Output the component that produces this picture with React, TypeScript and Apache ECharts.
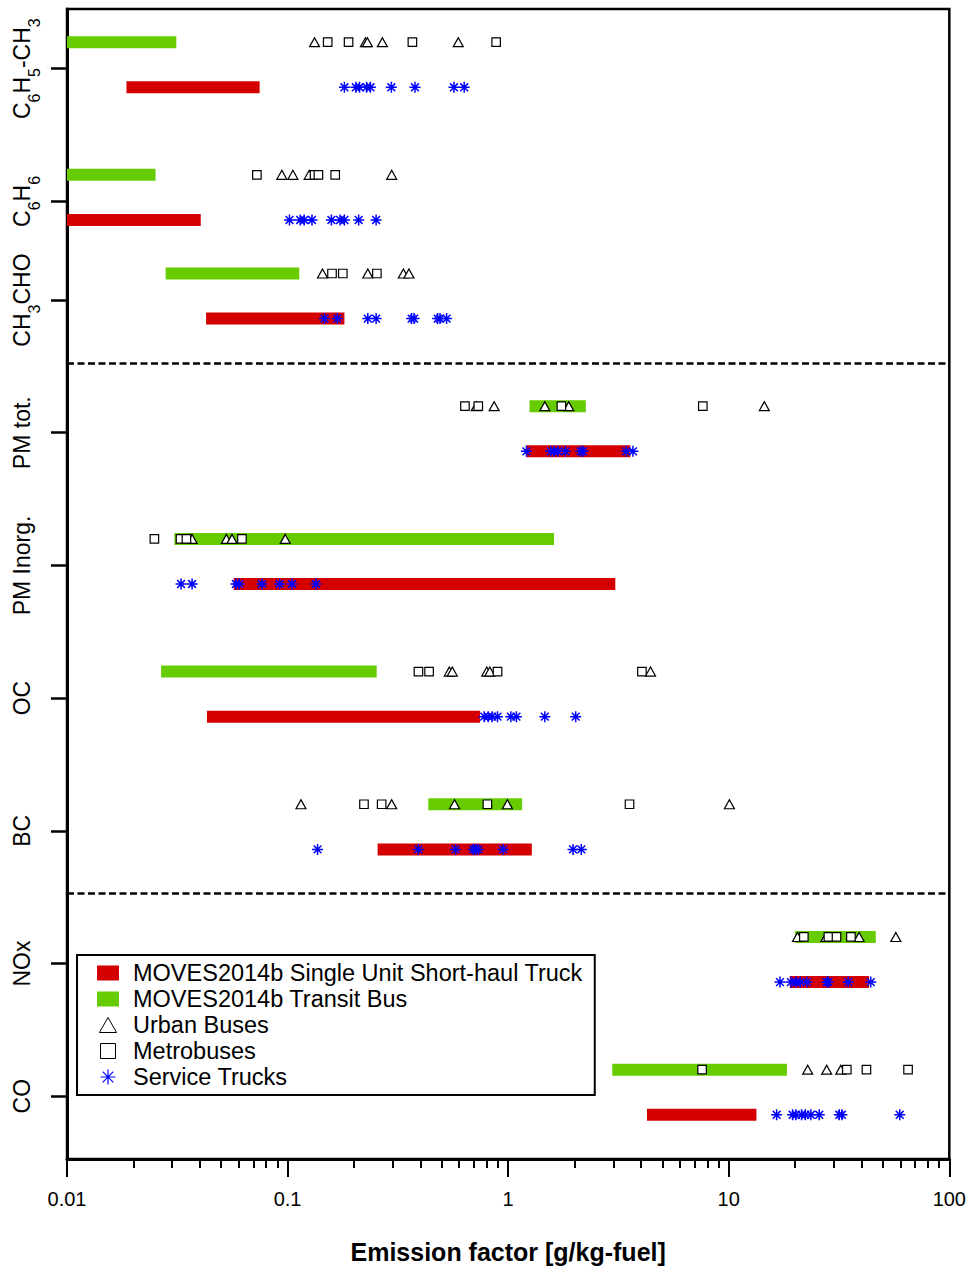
import React, { useEffect, useRef } from 'react';
import * as echarts from 'echarts';

// ---------- data ----------
const categories = ['C6H5-CH3', 'C6H6', 'CH3CHO', 'PM tot.', 'PM Inorg.', 'OC', 'BC', 'NOx', 'CO'];

// MOVES2014b Single Unit Short-haul Truck range [min, max] (g/kg-fuel)
const truckRange = [
  [0.0186, 0.0747],
  [0.01, 0.0404],
  [0.0427, 0.181],
  [1.21, 3.58],
  [0.057, 3.06],
  [0.0431, 0.745],
  [0.256, 1.28],
  [18.9, 43.3],
  [4.26, 13.35],
];

// MOVES2014b Transit Bus range [min, max]
const busRange = [
  [0.01, 0.0313],
  [0.01, 0.0252],
  [0.028, 0.113],
  [1.25, 2.25],
  [0.0307, 1.615],
  [0.0267, 0.2535],
  [0.4345, 1.157],
  [20.0, 46.4],
  [2.965, 18.36],
];

// Urban Buses (triangles)
const urbanBuses = [
  [0.1325, 0.2255, 0.23, 0.269, 0.594],
  [0.0942, 0.1057, 0.1253, 0.2965],
  [0.144, 0.231, 0.335, 0.355],
  [0.717, 0.864, 1.466, 1.882, 14.5],
  [0.0369, 0.0528, 0.056, 0.0976],
  [0.541, 0.558, 0.8, 0.826, 4.42],
  [0.115, 0.2965, 0.5715, 0.992, 10.07],
  [20.5, 27.6, 39.0, 57.2],
  [22.8, 27.8, 32.2],
];

// Metrobuses (squares)
const metrobuses = [
  [0.152, 0.189, 0.368, 0.882],
  [0.0726, 0.1325, 0.138, 0.1644],
  [0.159, 0.178, 0.254],
  [0.637, 0.732, 1.743, 7.63],
  [0.0249, 0.0327, 0.0348, 0.0621],
  [0.392, 0.438, 0.895, 4.04],
  [0.222, 0.267, 0.805, 3.55],
  [21.9, 28.3, 30.8, 35.8],
  [7.57, 34.3, 42.1, 65.0],
];

// Service Trucks (asterisks)
const serviceTrucks = [
  [0.181, 0.204, 0.212, 0.228, 0.2375, 0.2955, 0.378, 0.568, 0.632],
  [0.102, 0.114, 0.119, 0.129, 0.158, 0.173, 0.181, 0.21, 0.252],
  [0.147, 0.168, 0.231, 0.252, 0.365, 0.3745, 0.479, 0.491, 0.526],
  [1.21, 1.56, 1.615, 1.684, 1.817, 2.133, 2.185, 3.43, 3.678],
  [0.0329, 0.0369, 0.0583, 0.0604, 0.0765, 0.092, 0.1046, 0.1343],
  [0.7785, 0.812, 0.846, 0.895, 1.0285, 1.09, 1.466, 2.024],
  [0.1367, 0.3916, 0.5775, 0.694, 0.711, 0.732, 0.949, 1.968, 2.146],
  [17.07, 19.13, 20.16, 21.1, 22.61, 27.85, 28.25, 34.8, 44.05],
  [16.49, 19.48, 20.16, 21.39, 22.23, 23.57, 25.72, 31.7, 32.57, 59.6],
];

const xTickLabels = ['0.01', '0.1', '1', '10', '100'];
const xMinorTicks = [0.01, 0.1, 1, 10].flatMap((d) => [2, 3, 4, 5, 6, 7, 8, 9].map((m) => +(d * m).toPrecision(3)));

const TRUCK = 'MOVES2014b Single Unit Short-haul Truck';
const BUS = 'MOVES2014b Transit Bus';

// ---------- layout ----------
const rowPos = [24.23, 21.23, 19, 16, 13, 10, 7, 4, 1]; // truck row position per category
const BUS_OFFSET = 1.02;
const TICK_OFFSET = 0.42;
const separators = [18, 6];
const tickPos = rowPos.map((r) => +(r + TICK_OFFSET).toFixed(2));

const FONT = '"Liberation Sans", Arial, Helvetica, sans-serif';
const RED = '#D40000';
const GREEN = '#66CC00';
const BLUE = '#0000FF';

const TRI_PATH = 'path://M8,0L16,14L0,14Z';
const SQ_PATH = 'path://M0,0L13,0L13,13L0,13Z';
const AST_PATH = 'path://M0,-10L0,10M-10,0L10,0M-7.07,-7.07L7.07,7.07M-7.07,7.07L7.07,-7.07';

const toRich = (name: string) =>
  ('{n|' + name.replace(/(\d+)/g, '}{s|$1}{n|') + '}').replace(/\{n\|\}/g, '');

const labelFor = (v: number) => {
  let best = 0;
  tickPos.forEach((t, i) => {
    if (Math.abs(t - v) < Math.abs(tickPos[best] - v)) best = i;
  });
  return toRich(categories[best]);
};

const barData = (ranges: number[][], offset: number) =>
  ranges.map((r, i) => [r[0], r[1], rowPos[i] + offset]);

const pointData = (groups: number[][], offset: number) =>
  groups.flatMap((vals, i) => vals.map((v) => [v, rowPos[i] + offset]));

const renderBar = (color: string) => (_params: any, api: any) => {
  const y = api.value(2);
  const p1 = api.coord([api.value(0), y]);
  const p2 = api.coord([api.value(1), y]);
  return {
    type: 'rect',
    shape: { x: p1[0], y: p1[1] - 6, width: p2[0] - p1[0], height: 12 },
    style: { fill: color },
  };
};

export default function App() {
  const ref = useRef<HTMLDivElement>(null);

  useEffect(() => {
    if (!ref.current) return;
    const chart = echarts.init(ref.current, null, { renderer: 'svg' });
    const option: any = {
      animation: false,
      backgroundColor: '#fff',
      grid: {
        left: 67,
        top: 9,
        width: 885,
        height: 1151,
        show: true,
        borderColor: '#000',
        borderWidth: 2.5,
        backgroundColor: 'transparent',
      },
      xAxis: [
        {
          type: 'log',
          logBase: 10,
          min: 0.01,
          max: 100,
          axisLine: { show: true, onZero: false, lineStyle: { color: '#000', width: 3 } },
          axisTick: { show: true, length: 18, lineStyle: { color: '#000', width: 2 } },
          axisLabel: {
            margin: 30,
            fontFamily: FONT,
            fontSize: 20,
            color: '#000',
            formatter: (_v: number, i: number) => xTickLabels[i] ?? '',
          },
          splitLine: { show: false },
          name: 'Emission factor [g/kg-fuel]',
          nameLocation: 'middle',
          nameGap: 80,
          nameTextStyle: { fontFamily: FONT, fontSize: 25, fontWeight: 'bold', color: '#000' },
        },
        {
          type: 'log',
          logBase: 10,
          min: 0.01,
          max: 100,
          position: 'bottom',
          axisLine: { show: false },
          axisTick: { show: true, customValues: xMinorTicks, length: 9, lineStyle: { color: '#000', width: 2 } },
          axisLabel: { show: false },
          splitLine: { show: false },
        },
      ],
      yAxis: {
        type: 'value',
        min: 0,
        max: 26,
        axisLine: { show: true, onZero: false, lineStyle: { color: '#000', width: 3 } },
        axisTick: { show: true, customValues: tickPos, length: 16, lineStyle: { color: '#000', width: 2.5 } },
        axisLabel: {
          customValues: tickPos,
          rotate: 90,
          margin: 29,
          formatter: (v: number) => labelFor(v),
          rich: {
            n: { fontFamily: FONT, fontSize: 23, lineHeight: 24, padding: [0, 0, 8, 0], color: '#000' },
            s: { fontFamily: FONT, fontSize: 16, lineHeight: 16, padding: [16, 0, 0, 0], color: '#000' },
          },
        },
        splitLine: { show: false },
      },
      legend: {
        orient: 'vertical',
        left: 77,
        top: 955,
        padding: [5, 12, 5, 20],
        itemGap: 0,
        itemWidth: 22,
        itemHeight: 15,
        borderColor: '#000',
        borderWidth: 2,
        backgroundColor: '#fff',
        selectedMode: false,
        symbolKeepAspect: true,
        textStyle: { fontFamily: FONT, fontSize: 23.5, color: '#000', lineHeight: 26, padding: [0, 0, 0, 9] },
        data: [
          { name: TRUCK, icon: 'rect', itemStyle: { color: RED, borderWidth: 0 } },
          { name: BUS, icon: 'rect', itemStyle: { color: GREEN, borderWidth: 0 } },
          { name: 'Urban Buses', icon: TRI_PATH, itemStyle: { color: '#fff', borderColor: '#000', borderWidth: 1 } },
          { name: 'Metrobuses', icon: SQ_PATH, itemStyle: { color: '#fff', borderColor: '#000', borderWidth: 1 } },
          { name: 'Service Trucks', icon: AST_PATH, itemStyle: { color: 'rgba(0,0,0,0)', borderColor: BLUE, borderWidth: 1.2 } },
        ],
      },
      series: [
        {
          type: 'custom',
          name: TRUCK,
          renderItem: renderBar(RED),
          data: barData(truckRange, 0),
          encode: { x: [0, 1], y: 2 },
          itemStyle: { color: RED },
          silent: true,
          z: 2,
        },
        {
          type: 'custom',
          name: BUS,
          renderItem: renderBar(GREEN),
          data: barData(busRange, BUS_OFFSET),
          encode: { x: [0, 1], y: 2 },
          itemStyle: { color: GREEN },
          silent: true,
          z: 2,
        },
        {
          type: 'scatter',
          name: 'Urban Buses',
          symbol: 'triangle',
          symbolSize: [10, 9],
          data: pointData(urbanBuses, BUS_OFFSET),
          itemStyle: { color: '#fff', borderColor: '#000', borderWidth: 1.2, opacity: 1 },
          silent: true,
          z: 3,
          markLine: {
            silent: true,
            symbol: 'none',
            label: { show: false },
            lineStyle: { color: '#000', width: 2.5, type: [7, 3.5] },
            data: separators.map((s) => ({ yAxis: s })),
          },
        },
        {
          type: 'scatter',
          name: 'Metrobuses',
          symbol: 'rect',
          symbolSize: 8.5,
          data: pointData(metrobuses, BUS_OFFSET),
          itemStyle: { color: '#fff', borderColor: '#000', borderWidth: 1.2, opacity: 1 },
          silent: true,
          z: 4,
        },
        {
          type: 'scatter',
          name: 'Service Trucks',
          symbol: AST_PATH,
          symbolSize: 11,
          data: pointData(serviceTrucks, 0),
          itemStyle: { color: 'rgba(0,0,0,0)', borderColor: BLUE, borderWidth: 1.5, opacity: 1 },
          silent: true,
          z: 5,
        },
      ],
    };
    chart.setOption(option);
    return () => chart.dispose();
  }, []);

  return (
    <div
      ref={ref}
      style={{ position: 'absolute', left: 0, top: 0, width: 969, height: 1269, background: '#fff' }}
    />
  );
}
